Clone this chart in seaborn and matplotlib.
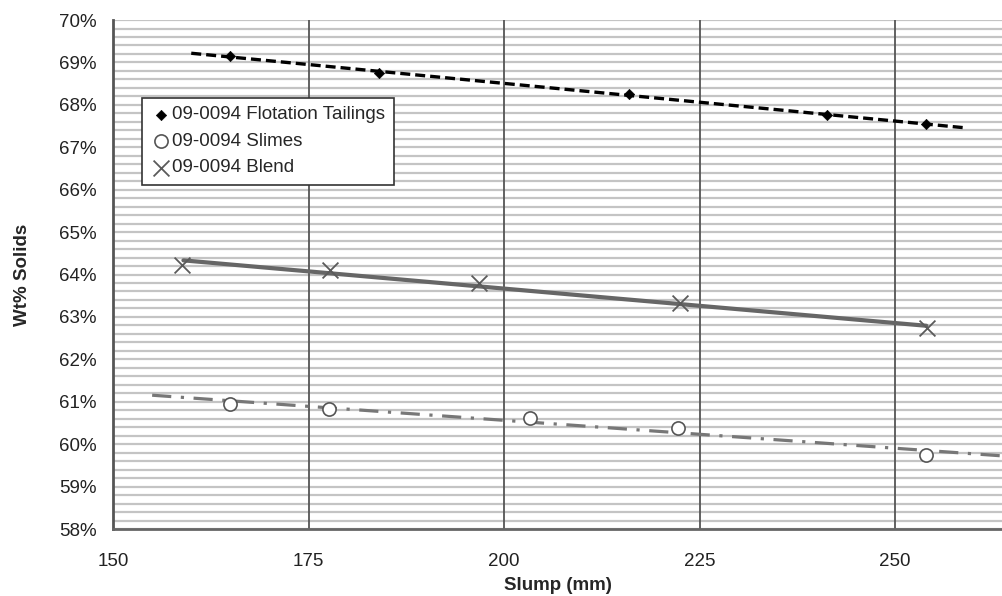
import numpy as np
import pandas as pd
import matplotlib
matplotlib.use('Agg')
import matplotlib.pyplot as plt
from matplotlib.ticker import MultipleLocator, PercentFormatter
import seaborn as sns

# 数据
tail_x = [165.0, 184.0, 216.0, 241.3, 254.0]
tail_y = [69.15, 68.75, 68.25, 67.76, 67.55]
slime_x = [165.0, 177.6, 203.3, 222.3, 254.0]
slime_y = [60.95, 60.84, 60.61, 60.37, 59.75]
blend_x = [158.8, 177.7, 196.8, 222.5, 254.1]
blend_y = [64.23, 64.10, 63.79, 63.33, 62.73]

# 趋势线的绘制范围
tail_trend_range = [160.0, 258.7]
slime_trend_range = [155.0, 264.0]
blend_trend_range = [159.0, 254.0]

labels = ['09-0094 Flotation Tailings', '09-0094 Slimes', '09-0094 Blend']

sns.set_style('white')
plt.rcParams['font.family'] = ['Liberation Sans', 'DejaVu Sans']

fig = plt.figure(figsize=(10.03, 5.96), dpi=100)
ax = fig.add_axes([0.1127, 0.1124, 0.8873, 0.854])


def trend(xs, ys, rng):
    b, a = np.polyfit(xs, ys, 1)
    tx = np.array(rng)
    return pd.DataFrame({'x': tx, 'y': a + b * tx})


t = trend(tail_x, tail_y, tail_trend_range)
sns.lineplot(data=t, x='x', y='y', ax=ax, color='black', lw=2.4,
             linestyle=(0, (3, 1.5)), zorder=3)
s = trend(slime_x, slime_y, slime_trend_range)
sns.lineplot(data=s, x='x', y='y', ax=ax, color='#777777', lw=2.3,
             linestyle=(0, (6, 3, 1, 3)), zorder=3)
b = trend(blend_x, blend_y, blend_trend_range)
sns.lineplot(data=b, x='x', y='y', ax=ax, color='#666666', lw=3.0, zorder=3)

sns.scatterplot(x=tail_x, y=tail_y, ax=ax, marker='D', s=28, color='black',
                edgecolor='black', zorder=4, label=labels[0])
sns.scatterplot(x=slime_x, y=slime_y, ax=ax, marker='o', s=90,
                facecolor='white', edgecolor='#555555', linewidth=1.2,
                zorder=4, label=labels[1])
sns.scatterplot(x=blend_x, y=blend_y, ax=ax, marker='x', s=130,
                color='#5a5a5a', linewidth=1.3, zorder=4, label=labels[2])

ax.set_xlim(150, 263.8)
ax.set_ylim(58, 70)
ax.xaxis.set_major_locator(MultipleLocator(25))
ax.yaxis.set_major_locator(MultipleLocator(1))
ax.yaxis.set_minor_locator(MultipleLocator(0.2))
ax.yaxis.set_major_formatter(PercentFormatter(xmax=100, decimals=0))

# 横向网格在下，纵向网格压在上面
ax.set_axisbelow(True)
ax.grid(axis='y', which='both', color='#c4c4c4', lw=1.6)
for xv in ax.get_xticks():
    if 150 < xv < 263.8:
        ax.axvline(xv, color='#555555', lw=1.3, zorder=1)

for side in ['top', 'right']:
    ax.spines[side].set_visible(False)
ax.spines['left'].set_color('#555555')
ax.spines['left'].set_linewidth(2.0)
ax.spines['bottom'].set_color('#666666')
ax.spines['bottom'].set_linewidth(2.0)

ax.tick_params(axis='both', which='major', direction='out', length=4,
               width=1, color='#666666', labelsize=13.5, labelcolor='#222222')
ax.tick_params(axis='y', which='minor', length=0)
ax.tick_params(axis='x', pad=13)
ax.tick_params(axis='y', pad=8)

ax.set_xlabel('Slump (mm)', fontsize=13.5, fontweight='bold', labelpad=5)
ax.set_ylabel('Wt% Solids', fontsize=13.5, fontweight='bold', labelpad=20)

leg = ax.legend(loc='upper left', bbox_to_anchor=(0.032, 0.847),
                fontsize=13.5, frameon=True, fancybox=False,
                handletextpad=0.0, handlelength=1.2, borderpad=0.45,
                labelspacing=0.5, borderaxespad=0)
leg.get_frame().set_edgecolor('#333333')
leg.get_frame().set_linewidth(1.2)
leg.get_frame().set_alpha(1)

plt.savefig('out.png', dpi=100)
plt.close()
